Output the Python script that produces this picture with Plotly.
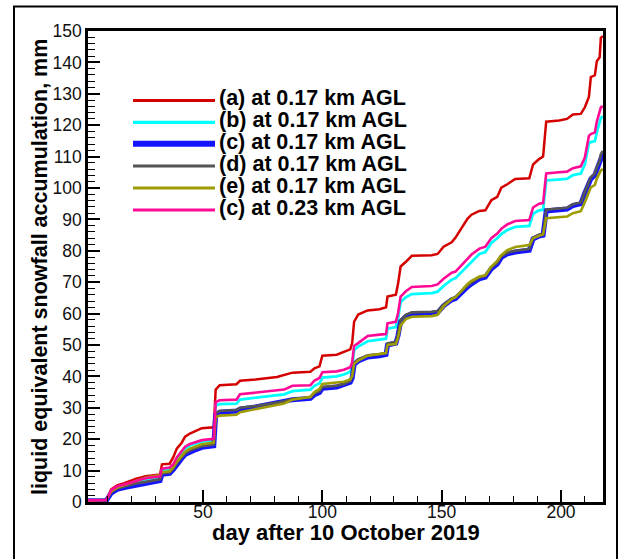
import plotly.graph_objects as go

# Day after 10 October 2019 (shared sampling for all runs)
days = [1, 9.5, 11.5, 14, 17, 20, 22, 26, 32, 32.8, 36, 37.5, 39, 41, 42.5, 44.5, 47, 49.5,
        54.5, 55.3, 57, 64, 65.5, 72, 81, 84, 87.5, 95, 96.7, 98.8, 100, 106, 109, 111.7,
        112.5, 113.3, 115, 119, 124, 126.7, 127.3, 130.8, 131.7, 132.8, 135, 137.5, 145.8,
        148.3, 150.8, 154.2, 155.8, 158.3, 160.8, 162.5, 165.8, 168.3, 170.8, 173.3, 175,
        177.5, 180.8, 186.7, 188.3, 190.8, 192.5, 193.8, 199.2, 202.5, 205, 208.3, 210,
        211.7, 212.5, 214.2, 215, 216.2, 216.7, 217.5]

# Liquid-equivalent snowfall accumulation, mm
acc_a_017 = [0.5, 0.6, 4.0, 5.3, 6.0, 6.8, 7.4, 8.2, 8.8, 12.0, 12.2, 14.2, 17.0, 18.8, 20.8, 21.8,
             22.7, 23.5, 23.8, 35.8, 37.2, 37.5, 38.6, 39.0, 39.8, 40.4, 41.2, 41.5, 42.6, 43.2,
             46.6, 46.9, 47.8, 48.6, 50.6, 57.4, 59.7, 61.0, 61.4, 62.0, 65.4, 66.0, 69.4, 75.0,
             76.5, 78.4, 78.6, 79.0, 81.3, 82.7, 84.2, 87.0, 90.2, 91.5, 92.7, 92.9, 96.1, 97.2,
             100.1, 101.2, 102.9, 103.1, 107.5, 109.2, 110.0, 121.1, 121.5, 122.0, 123.4, 123.6,
             125.7, 129.0, 135.3, 135.9, 140.4, 141.6, 147.8, 148.4]
acc_b_017 = [0.5, 0.6, 3.6, 4.8, 5.4, 6.1, 6.6, 7.3, 7.9, 10.0, 10.4, 11.6, 13.6, 15.6, 17.0, 18.0,
             18.6, 19.2, 19.7, 30.7, 31.2, 31.3, 32.6, 33.2, 33.9, 34.3, 35.3, 35.8, 37.0, 37.8,
             39.6, 40.0, 40.6, 41.5, 43.0, 48.3, 49.5, 51.2, 51.7, 52.0, 55.2, 55.7, 58.3, 63.7,
             65.2, 66.2, 66.5, 67.0, 68.8, 70.8, 71.3, 73.3, 75.3, 76.4, 79.0, 79.6, 82.5, 84.0,
             85.3, 86.6, 87.6, 87.9, 91.8, 92.9, 93.1, 102.4, 102.7, 102.9, 104.1, 104.6, 107.5,
             114.3, 114.6, 114.9, 117.7, 120.5, 122.3, 122.8]
acc_c_017 = [0.4, 0.5, 2.8, 4.0, 4.6, 5.1, 5.5, 6.0, 6.8, 8.8, 9.1, 10.3, 12.0, 13.8, 15.1, 16.0,
             16.7, 17.4, 17.9, 27.8, 28.6, 29.0, 29.6, 30.3, 31.4, 31.8, 32.6, 33.0, 34.2, 34.9,
             36.2, 36.6, 37.2, 38.1, 39.5, 43.8, 44.9, 46.2, 46.6, 47.0, 50.0, 50.6, 53.0, 57.4,
             59.1, 59.9, 60.1, 60.3, 62.5, 64.4, 64.8, 66.8, 68.5, 69.5, 71.1, 71.6, 74.3, 75.8,
             77.9, 79.0, 79.6, 80.2, 83.8, 84.7, 85.0, 92.7, 93.0, 93.3, 94.4, 95.0, 98.4, 101.5,
             102.9, 104.1, 106.0, 108.0, 110.0, 110.9]
acc_d_017 = [0.5, 0.6, 3.1, 4.3, 4.9, 5.5, 5.9, 6.4, 7.2, 9.1, 9.4, 10.6, 12.4, 14.2, 15.5, 16.4,
             17.1, 17.8, 18.3, 28.3, 29.0, 29.3, 30.0, 30.6, 31.7, 32.1, 32.9, 33.3, 34.6, 35.3,
             36.6, 37.0, 37.6, 38.5, 39.9, 44.3, 45.4, 46.7, 47.1, 47.4, 50.5, 51.0, 53.5, 57.9,
             59.6, 60.4, 60.6, 60.8, 62.9, 64.8, 65.2, 67.2, 68.9, 69.9, 71.5, 72.0, 74.7, 76.2,
             78.3, 79.4, 80.0, 80.6, 84.2, 85.1, 85.4, 93.1, 93.4, 93.7, 94.8, 95.4, 98.8, 102.0,
             103.4, 104.6, 106.6, 108.6, 110.8, 111.8]
acc_e_017 = [0.5, 0.7, 3.4, 4.6, 5.4, 6.2, 6.9, 7.8, 8.6, 9.5, 9.8, 11.0, 12.8, 14.7, 16.0, 17.0,
             17.7, 18.4, 18.9, 27.0, 27.5, 27.8, 28.6, 29.5, 30.8, 31.4, 32.6, 33.5, 35.0, 36.0,
             37.6, 38.0, 38.3, 39.0, 40.2, 44.0, 45.0, 46.6, 47.1, 47.4, 50.0, 50.3, 52.2, 56.2,
             58.3, 59.0, 59.2, 59.6, 62.3, 64.6, 65.2, 67.4, 69.4, 70.4, 71.8, 72.2, 75.0, 76.8,
             78.6, 80.2, 81.2, 81.8, 84.0, 84.8, 85.2, 90.4, 90.6, 90.9, 92.0, 92.6, 95.5, 99.0,
             100.2, 101.0, 103.0, 104.8, 105.6, 106.0]
acc_c_023 = [0.5, 0.6, 3.8, 5.0, 5.6, 6.3, 6.8, 7.6, 8.2, 10.6, 11.0, 12.0, 14.2, 16.3, 17.6, 18.5,
             19.0, 19.7, 20.1, 31.8, 32.4, 32.6, 34.3, 34.9, 35.5, 35.8, 37.0, 37.2, 38.7, 39.5,
             41.3, 41.6, 42.1, 42.9, 44.5, 49.7, 50.6, 52.9, 53.3, 53.5, 56.9, 57.4, 60.0, 65.4,
             67.1, 68.5, 68.8, 69.3, 71.1, 73.0, 73.4, 75.5, 77.5, 78.8, 80.7, 81.3, 84.0, 85.5,
             87.0, 88.4, 89.5, 89.8, 93.8, 95.0, 95.2, 104.6, 105.0, 105.2, 106.3, 106.9, 109.7,
             116.6, 117.2, 117.7, 121.1, 124.0, 125.7, 126.1]

labels = ["(a) at 0.17 km AGL", "(b) at 0.17 km AGL", "(c) at 0.17 km AGL",
          "(d) at 0.17 km AGL", "(e) at 0.17 km AGL", "(c) at 0.23 km AGL"]
series = [acc_a_017, acc_b_017, acc_c_017, acc_d_017, acc_e_017, acc_c_023]
colors = ["#d40000", "#00ffff", "#1414ff", "#555555", "#9e9c00", "#ff0a96"]
widths = [2.5, 2.8, 5.0, 2.6, 2.6, 2.6]

x_ticks = [50, 100, 150, 200]
y_ticks = list(range(0, 151, 10))

FONT = "Arial, Liberation Sans, sans-serif"

fig = go.Figure()
for name, vals, col, w in zip(labels, series, colors, widths):
    fig.add_trace(go.Scatter(x=days, y=vals, mode="lines", name=name,
                             line=dict(color=col, width=w), showlegend=False))

# hand-placed legend block inside the plot
leg_y_px = [100.5, 122.3, 143.8, 166, 188, 210]
L, R, T, B = 88, 603, 31, 502
shapes = []
annotations = []
for name, col, w, ypx in zip(labels, colors, widths, leg_y_px):
    yp = (B - ypx) / (B - T)
    shapes.append(dict(type="line", xref="paper", yref="paper",
                       x0=(133 - L) / (R - L), x1=(215 - L) / (R - L), y0=yp, y1=yp,
                       line=dict(color=col, width=w + (1 if w > 4 else 0.5))))
    annotations.append(dict(text=name, xref="paper", yref="paper",
                            x=(217 - L) / (R - L), y=(B - (ypx - 2)) / (B - T),
                            xanchor="left", yanchor="middle", showarrow=False,
                            font=dict(family=FONT, size=21.5, color="black", weight="bold")))

# outer frame
shapes.append(dict(type="rect", xref="paper", yref="paper",
                   x0=(14 - L) / (R - L), x1=(617 - L) / (R - L),
                   y0=(B - 562) / (B - T), y1=(B - 6.5) / (B - T),
                   line=dict(color="black", width=2)))

annotations.append(dict(text="day after 10 October 2019", xref="paper", yref="paper",
                        x=0.5, y=(B - 532) / (B - T), xanchor="center", yanchor="middle",
                        showarrow=False,
                        font=dict(family=FONT, size=22, color="black", weight="bold")))
annotations.append(dict(text="liquid equivalent snowfall accumulation, mm", xref="paper",
                        yref="paper", x=(40 - L) / (R - L), y=(B - 267) / (B - T),
                        xanchor="center", yanchor="middle", textangle=-90, showarrow=False,
                        font=dict(family=FONT, size=21.5, color="black", weight="bold")))

axis_common = dict(showline=True, linecolor="black", linewidth=2.5, mirror=True,
                   showgrid=False, zeroline=False, ticks="inside", tickcolor="black",
                   tickwidth=2, ticklen=12,
                   tickfont=dict(family=FONT, size=17.5, color="#111111"))

fig.update_xaxes(range=[1.8, 217.6], tickvals=x_ticks, ticklabelstandoff=-8,
                 minor=dict(ticks="inside", ticklen=6, tickwidth=1.3, tickcolor="black",
                            dtick=10, tick0=0),
                 **axis_common)
fig.update_yaxes(range=[0, 150], tickvals=y_ticks,
                 minor=dict(ticks="inside", ticklen=7, tickwidth=1.3, tickcolor="black",
                            dtick=2, tick0=0),
                 **axis_common)

fig.update_layout(width=622, height=559, margin=dict(l=L, r=622 - R, t=T, b=559 - B),
                  plot_bgcolor="white", paper_bgcolor="white",
                  shapes=shapes, annotations=annotations, showlegend=False)

fig.write_html("out.html")
